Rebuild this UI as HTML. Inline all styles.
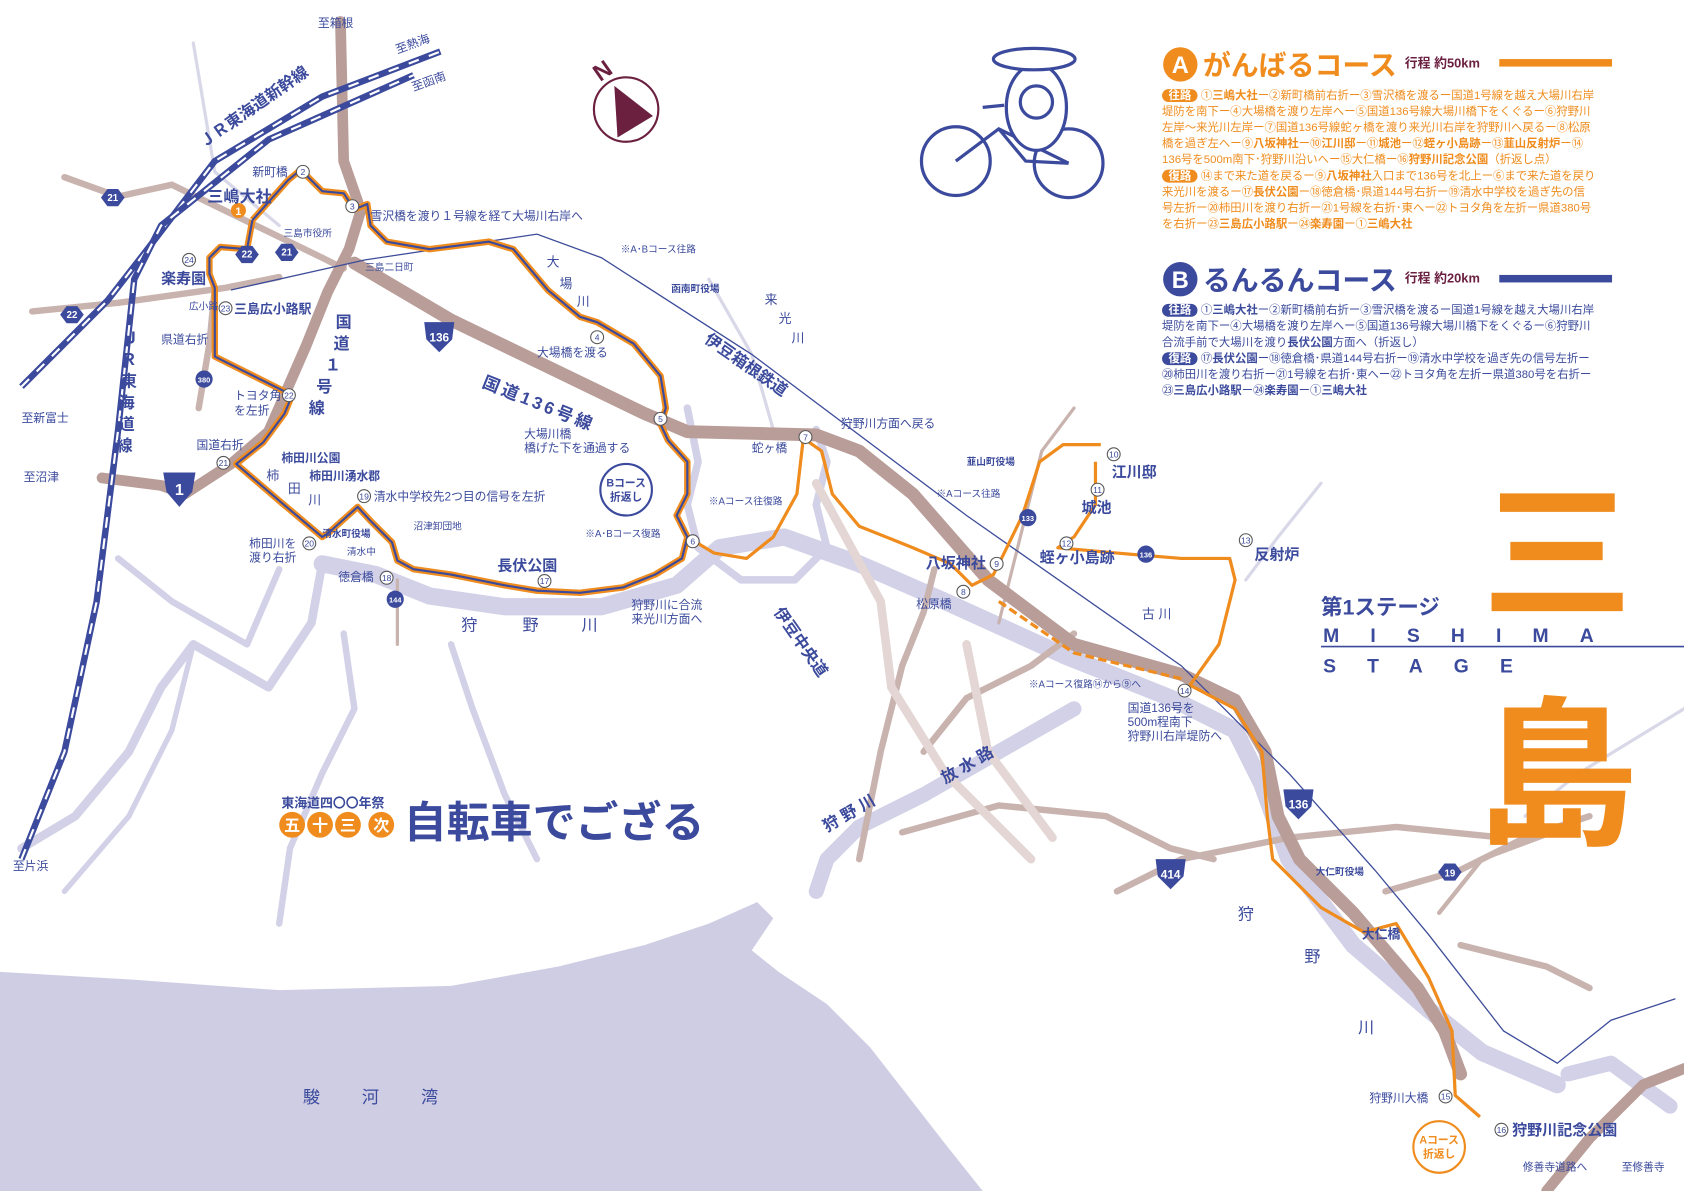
<!DOCTYPE html>
<html><head><meta charset="utf-8">
<style>
html,body{margin:0;padding:0;background:#fff;}
#w{width:1568px;height:1109px;transform:scale(1.07398,1.07394);transform-origin:0 0;position:relative;overflow:hidden;font-family:"Liberation Sans","Noto Sans CJK JP",sans-serif;}
svg{position:absolute;left:0;top:0}
.t{font-family:"Liberation Sans","Noto Sans CJK JP",sans-serif;}
.blk{position:absolute;left:1082px;width:430px;font-size:10.6px;line-height:15px;white-space:nowrap;font-family:"Liberation Sans","Noto Sans CJK JP",sans-serif;}
.blk b{font-weight:bold}
.tag{display:inline-block;color:#fff;border-radius:7px;padding:0 6px;font-weight:bold;line-height:12px;margin-right:3px}
</style></head><body><div id="w">
<svg width="1568" height="1109" viewBox="0 0 1568 1109">
<path d="M0,905 L120,912 L260,922 L420,918 L520,900 L600,880 L660,860 L705,840 L720,855 L700,885 L725,905 L770,935 L810,975 L845,1020 L880,1065 L915,1109 L0,1109 Z" fill="#cfcde3"/>
<g fill="none" stroke="#d2d1e7" stroke-linecap="round" stroke-linejoin="round">
<path d="M1450,1010 L1380,980 L1330,940 L1260,880 L1200,800 L1175,730 L1150,680 L1090,650 L990,610 L880,560 L800,525 L730,500 L670,510 L630,545 L560,565 L470,565 L400,555 L350,535 L300,525" stroke-width="16"/>
<path d="M300,525 L290,580 L250,640 L180,600 L150,640 L120,700 L70,760 L20,790" stroke-width="8"/>
<path d="M260,530 L230,600 L160,560 L110,520" stroke-width="6"/>
<path d="M1000,660 L930,700 L860,740 L800,770 L770,800 L760,830" stroke-width="14"/>
<path d="M640,380 L650,430 L640,470 L650,510 L690,540 L740,540 L770,510 L760,470 L770,430 L760,400" stroke-width="7"/>
<path d="M320,590 L330,660 L300,720 L270,790 L260,860" stroke-width="6"/>
<path d="M420,600 L440,660 L470,740 L500,800" stroke-width="6"/>
<path d="M180,600 L160,680 L120,760 L60,830" stroke-width="5"/>
<path d="M1555,1030 L1500,990 L1460,1000" stroke-width="14"/>
<path d="M1568,660 L1470,720 L1420,760" stroke-width="3" stroke="#d8d8e8"/>
<path d="M180,40 L200,160 L260,210" stroke-width="3" stroke="#d8d8e8"/>
<path d="M660,260 L700,330 L720,400" stroke-width="3" stroke="#d8d8e8"/>
<path d="M1230,450 L1190,500 L1160,540" stroke-width="3" stroke="#d8d8e8"/>
</g>
<g fill="none" stroke="#c9b3af" stroke-linecap="round" stroke-width="6">
<path d="M60,165 L110,183 L160,172 L300,240 L320,250"/>
<path d="M30,290 L110,282 L210,268 L260,258"/>
<path d="M185,380 L195,320 L200,268"/>
<path d="M840,775 L930,750 L1030,760 L1090,790 L1130,800"/>
<path d="M1040,830 L1100,800 L1200,780 L1300,770 L1400,780"/>
<path d="M800,800 L820,700 L840,620 L860,570 L870,530"/>
<path d="M860,700 L900,650 L960,620 L1000,590"/>
<path d="M1290,830 L1360,810 L1420,780 L1480,760"/>
<path d="M1360,880 L1440,900 L1480,920"/>
<path d="M1440,1109 L1480,1060 L1530,1010 L1568,995" stroke-width="10" stroke="#b99d99"/>
<path d="M370,540 L370,600" stroke-width="3"/>
<path d="M930,580 L970,420 L1000,380" stroke-width="3"/>
<path d="M1340,850 L1380,800 L1460,770" stroke-width="4"/>
</g>
<g fill="none" stroke="#e3d6d4" stroke-width="8" stroke-linecap="round">
<path d="M760,450 L820,560 L830,640 L880,720 L960,800"/>
<path d="M900,600 L920,700 L980,780"/>
</g>
<g fill="none" stroke="#b99d99" stroke-linecap="round" stroke-linejoin="round">
<path d="M95,445 L150,452 L172,460 L215,432 L250,402 L285,322 L305,272 L325,232 L336,196 L320,150 L317,20" stroke-width="10"/>
<path d="M330,245 L420,298 L600,385 L640,402 L760,405 L800,420 L850,460 L920,540 L1000,600 L1100,628 L1150,652 L1178,700 L1190,760 L1210,800 L1260,850 L1320,920 L1345,960 L1360,1000" stroke-width="12"/>
</g>
<path d="M215,270 L340,242 L500,218 L560,240 L700,330 L900,480 L1100,620 L1200,720 L1280,810 L1330,870 L1400,960 L1450,990 L1500,950 L1560,930" fill="none" stroke="#3d4c9a" stroke-width="1.2"/>
<g fill="none" stroke-linecap="butt" stroke-linejoin="round">
<path d="M20,360 L100,280 L135,235 L200,150 L300,90 L410,48" stroke="#3b4a9c" stroke-width="6"/>
<path d="M20,360 L100,280 L135,235 L200,150 L300,90 L410,48" stroke="#fff" stroke-width="2" stroke-dasharray="10 10"/>
<path d="M20,800 L60,700 L90,560 L110,400 L125,260 L150,210 L250,130 L385,70" stroke="#3b4a9c" stroke-width="6"/>
<path d="M20,800 L60,700 L90,560 L110,400 L125,260 L150,210 L250,130 L385,70" stroke="#fff" stroke-width="2" stroke-dasharray="10 10"/>
</g>
<g fill="none" stroke="#ef8c1d" stroke-width="3" stroke-linejoin="round">
<path d="M640,500 L665,515 L695,520 L720,500 L742,460 L748,408 L765,420 L775,460 L800,490 L850,510 L885,525 L905,545 L925,535 L935,515 L952,480 L968,430 L990,414 L1025,414 M1020,430 L1020,470 L1000,500 L985,510 L1040,515 L1100,520 L1145,520 L1150,540 L1135,600 L1108,638 L1150,660 L1175,700 L1180,760 L1185,800 L1230,845 L1270,868 L1300,860 L1330,910 L1352,960 L1355,1020 L1378,1040"/>
<path d="M930,560 L1000,608 L1100,632" stroke-dasharray="8 4"/>
</g>
<path d="M235,205 L268,168 L280,158 L300,178 L320,180 L330,195 L342,190 L345,210 L360,225 L400,232 L455,225 L478,232 L510,270 L540,295 L556,300 L590,320 L615,350 L620,380 L615,395 L622,410 L640,430 L640,460 L630,480 L640,500 L635,520 L610,535 L580,547 L540,552 L500,550 L470,545 L420,535 L385,530 L370,522 L365,505 L345,485 L333,472 L305,497 L300,500 L262,468 L220,432 L245,412 L265,385 L272,368 L200,332 L200,268 L195,255 L195,240 L205,230 L230,232 L235,205" fill="none" stroke="#ef8c1d" stroke-width="6" stroke-linejoin="round"/>
<path d="M235,205 L268,168 L280,158 L300,178 L320,180 L330,195 L342,190 L345,210 L360,225 L400,232 L455,225 L478,232 L510,270 L540,295 L556,300 L590,320 L615,350 L620,380 L615,395 L622,410 L640,430 L640,460 L630,480 L640,500 L635,520 L610,535 L580,547 L540,552 L500,550 L470,545 L420,535 L385,530 L370,522 L365,505 L345,485 L333,472 L305,497 L300,500 L262,468 L220,432 L245,412 L265,385 L272,368 L200,332 L200,268 L195,255 L195,240 L205,230 L230,232 L235,205" fill="none" stroke="#3b4a9c" stroke-width="2" stroke-linejoin="round"/>
<g class="t" font-weight="bold" text-anchor="middle" font-size="11">
<path d="M152,440 h30 l-3,18 l-12,14 l-12,-14 z" fill="#3b4a9c"/><text x="167" y="461" fill="#fff" font-size="15">1</text>
<path d="M395,300 h28 l-2,16 l-12,12 l-12,-12 z" fill="#3b4a9c"/><text x="409" y="318" fill="#fff">136</text>
<path d="M1195,735 h28 l-2,16 l-12,12 l-12,-12 z" fill="#3b4a9c"/><text x="1209" y="753" fill="#fff">136</text>
<path d="M1076,800 h28 l-2,16 l-12,12 l-12,-12 z" fill="#3b4a9c"/><text x="1090" y="818" fill="#fff">414</text>
<g fill="#3b4a9c"><polygon points="100,176 110,176 116,184 110,192 100,192 94,184"/><polygon points="262,227 272,227 278,235 272,243 262,243 256,235"/><polygon points="225,229 235,229 241,237 235,245 225,245 219,237"/><polygon points="62,285 72,285 78,293 72,301 62,301 56,293"/><polygon points="1345,804 1355,804 1361,812 1355,820 1345,820 1339,812"/><circle cx="190" cy="353" r="8"/><circle cx="368" cy="558" r="8"/><circle cx="957" cy="482" r="8"/><circle cx="1067" cy="516" r="8"/></g>
<g fill="#fff" font-size="9"><text x="105" y="187">21</text><text x="267" y="238">21</text><text x="230" y="240">22</text><text x="67" y="296">22</text><text x="1350" y="816">19</text><text x="190" y="356" font-size="7">380</text><text x="368" y="561" font-size="7">144</text><text x="957" y="485" font-size="7">133</text><text x="1067" y="519" font-size="7">136</text></g>
</g>
<circle cx="583" cy="102" r="30" fill="#fff" stroke="#6b2040" stroke-width="2"/>
<polygon points="572,80 608,108 575,128" fill="#6b2040"/>
<text x="553" y="72" class="t" font-size="22" font-weight="bold" fill="#6b2040" transform="rotate(-35 563 65)">N</text>
<g fill="none" stroke="#3b4a9c" stroke-width="3">
<circle cx="890" cy="150" r="32"/><circle cx="995" cy="152" r="32"/>
<path d="M890,150 L930,120 L995,152 M930,120 L955,150 L995,152 M915,100 L935,98"/>
<ellipse cx="965" cy="100" rx="28" ry="40" fill="#fff"/>
<ellipse cx="963" cy="55" rx="38" ry="10" fill="#fff"/>
<circle cx="965" cy="95" r="15"/>
</g>
<g fill="#fff" stroke="#555" stroke-width="1" class="t" font-size="8" text-anchor="middle">
<g><circle cx="282" cy="160" r="6"/><circle cx="328" cy="192" r="6"/><circle cx="556" cy="314" r="6"/><circle cx="615" cy="390" r="6"/><circle cx="645" cy="504" r="6"/><circle cx="750" cy="407" r="6"/><circle cx="897" cy="551" r="6"/><circle cx="928" cy="525" r="6"/><circle cx="1037" cy="423" r="6"/><circle cx="1022" cy="456" r="6"/><circle cx="993" cy="506" r="6"/><circle cx="1160" cy="503" r="6"/><circle cx="1103" cy="643" r="6"/><circle cx="1346" cy="1021" r="6"/><circle cx="1398" cy="1052" r="6"/><circle cx="507" cy="541" r="6"/><circle cx="360" cy="538" r="6"/><circle cx="339" cy="462" r="6"/><circle cx="288" cy="506" r="6"/><circle cx="208" cy="431" r="6"/><circle cx="269" cy="368" r="6"/><circle cx="210" cy="287" r="6"/><circle cx="176" cy="242" r="6"/></g>
<g fill="#3b4a9c" stroke="none"><text x="282" y="163">2</text><text x="328" y="195">3</text><text x="556" y="317">4</text><text x="615" y="393">5</text><text x="645" y="507">6</text><text x="750" y="410">7</text><text x="897" y="554">8</text><text x="928" y="528">9</text><text x="1037" y="426">10</text><text x="1022" y="459">11</text><text x="993" y="509">12</text><text x="1160" y="506">13</text><text x="1103" y="646">14</text><text x="1346" y="1024">15</text><text x="1398" y="1055">16</text><text x="507" y="544">17</text><text x="360" y="541">18</text><text x="339" y="465">19</text><text x="288" y="509">20</text><text x="208" y="434">21</text><text x="269" y="371">22</text><text x="210" y="290">23</text><text x="176" y="245">24</text></g>
</g>
<circle cx="222" cy="196" r="7" fill="#ef8c1d"/><text x="222" y="200" text-anchor="middle" fill="#fff" font-size="10" font-weight="bold" class="t">1</text>
<circle cx="583" cy="456" r="24" fill="#fff" stroke="#3b4a9c" stroke-width="2"/>
<text x="583" y="453" text-anchor="middle" class="t" font-size="10" font-weight="bold" fill="#3b4a9c">Bコース</text><text x="583" y="466" text-anchor="middle" class="t" font-size="10" font-weight="bold" fill="#3b4a9c">折返し</text>
<circle cx="1340" cy="1068" r="24" fill="#fff" stroke="#ef8c1d" stroke-width="2"/>
<text x="1340" y="1065" text-anchor="middle" class="t" font-size="10" font-weight="bold" fill="#ef8c1d">Aコース</text><text x="1340" y="1078" text-anchor="middle" class="t" font-size="10" font-weight="bold" fill="#ef8c1d">折返し</text>
<g class="t" fill="#3b4a9c" font-size="11">
<text x="296" y="25">至箱根</text><text x="370" y="50" transform="rotate(-20 370 50)">至熱海</text><text x="385" y="85" transform="rotate(-20 385 85)">至函南</text>
<text x="20" y="393">至新富士</text><text x="22" y="448">至沼津</text><text x="12" y="810">至片浜</text>
<text x="235" y="164">新町橋</text><text x="345" y="205">雪沢橋を渡り１号線を経て大場川右岸へ</text>
<text x="264" y="220" font-size="9">三島市役所</text><text x="150" y="320">県道右折</text><text x="218" y="372">トヨタ角</text><text x="218" y="386">を左折</text>
<text x="183" y="418">国道右折</text><text x="232" y="510">柿田川を</text><text x="232" y="523">渡り右折</text><text x="315" y="541">徳倉橋</text><text x="348" y="466">清水中学校先2つ目の信号を左折</text>
<text x="500" y="332">大場橋を渡る</text><text x="488" y="408">大場川橋</text><text x="488" y="421">橋げた下を通過する</text>
<text x="783" y="398">狩野川方面へ戻る</text><text x="700" y="421">蛇ヶ橋</text><text x="588" y="567">狩野川に合流</text><text x="588" y="580">来光川方面へ</text>
<text x="853" y="566">松原橋</text><text x="1050" y="663">国道136号を</text><text x="1050" y="676">500m程南下</text><text x="1050" y="689">狩野川右岸堤防へ</text>
<text x="1275" y="1026">狩野川大橋</text><text x="1418" y="1090" font-size="10">修善寺道路へ</text><text x="1510" y="1090" font-size="10">至修善寺</text>
<text x="578" y="235" font-size="9">※A･Bコース往路</text><text x="545" y="500" font-size="9">※A･Bコース復路</text><text x="660" y="470" font-size="9">※Aコース往復路</text><text x="872" y="463" font-size="9">※Aコース往路</text><text x="958" y="640" font-size="9">※Aコース復路⑭から⑨へ</text>
<text x="625" y="272" font-size="9" font-weight="bold">函南町役場</text><text x="900" y="433" font-size="9" font-weight="bold">韮山町役場</text><text x="1225" y="815" font-size="9" font-weight="bold">大仁町役場</text>
<text x="340" y="252" font-size="9">三島二日町</text><text x="176" y="288" font-size="9">広小路</text><text x="385" y="493" font-size="9">沼津卸団地</text><text x="323" y="517" font-size="9">清水中</text>
</g>
<g class="t" fill="#3b4a9c" font-weight="bold">
<text x="193" y="188" font-size="15">三嶋大社</text><text x="150" y="264" font-size="14">楽寿園</text><text x="218" y="292" font-size="12">三島広小路駅</text>
<text x="262" y="430" font-size="11">柿田川公園</text><text x="288" y="447" font-size="11">柿田川湧水郡</text><text x="300" y="500" font-size="9">清水町役場</text>
<text x="463" y="531" font-size="14">長伏公園</text><text x="862" y="529" font-size="14">八坂神社</text><text x="1035" y="444" font-size="14">江川邸</text><text x="1007" y="477" font-size="14">城池</text><text x="968" y="524" font-size="14">蛭ヶ小島跡</text><text x="1168" y="521" font-size="14">反射炉</text>
<text x="1408" y="1057" font-size="14">狩野川記念公園</text><text x="1268" y="874" font-size="12">大仁橋</text>
<text x="448" y="360" font-size="16" transform="rotate(22 448 360)" letter-spacing="3">国道136号線</text>
<text x="190" y="138" font-size="15" transform="rotate(-35 190 138)">ＪＲ東海道新幹線</text>
<text x="655" y="318" font-size="15" transform="rotate(35 655 318)">伊豆箱根鉄道</text>
<text x="720" y="570" font-size="15" transform="rotate(55 720 570)">伊豆中央道</text>
<text x="880" y="730" font-size="15" transform="rotate(-30 880 730)">放 水 路</text>
<text x="770" y="775" font-size="15" transform="rotate(-30 770 775)">狩 野 川</text>
</g>
<g class="t" fill="#3b4a9c" font-size="15" text-anchor="middle">
<text x="320" y="305" font-weight="bold">国</text><text x="318" y="325" font-weight="bold">道</text><text x="310" y="345" font-weight="bold">１</text><text x="302" y="365" font-weight="bold">号</text><text x="295" y="385" font-weight="bold">線</text>
<text x="122" y="320" font-weight="bold">Ｊ</text><text x="120" y="340" font-weight="bold">Ｒ</text><text x="120" y="360" font-weight="bold">東</text><text x="118" y="380" font-weight="bold">海</text><text x="118" y="400" font-weight="bold">道</text><text x="116" y="420" font-weight="bold">線</text>
<text x="437" y="587">狩</text><text x="494" y="587">野</text><text x="549" y="587">川</text>
<text x="1160" y="856">狩</text><text x="1222" y="896">野</text><text x="1272" y="962">川</text>
<text x="1077" y="576" font-size="12">古 川</text>
<text x="515" y="248" font-size="12">大</text><text x="527" y="268" font-size="12">場</text><text x="543" y="285" font-size="12">川</text>
<text x="718" y="283" font-size="12">来</text><text x="731" y="301" font-size="12">光</text><text x="743" y="319" font-size="12">川</text>
<text x="254" y="447" font-size="12">柿</text><text x="274" y="459" font-size="12">田</text><text x="293" y="470" font-size="12">川</text>
<text x="290" y="1027" font-size="16">駿</text><text x="345" y="1027" font-size="16">河</text><text x="400" y="1027" font-size="16">湾</text>
</g>
<text x="262" y="752" class="t" font-size="12" font-weight="bold" fill="#3b4a9c">東海道四〇〇年祭</text>
<g class="t" font-size="15" font-weight="bold" fill="#fff" text-anchor="middle">
<circle cx="272" cy="768" r="12" fill="#ef8c1d"/><circle cx="298" cy="768" r="12" fill="#ef8c1d"/><circle cx="324" cy="768" r="12" fill="#ef8c1d"/><circle cx="355" cy="768" r="12" fill="#ef8c1d"/>
<text x="272" y="774">五</text><text x="298" y="774">十</text><text x="324" y="774">三</text><text x="355" y="774">次</text>
</g>
<text x="376" y="780" class="t" font-size="40" font-weight="bold" fill="#3b4a9c">自転車でござる</text>
<text x="1380" y="565" class="t" font-size="140" font-weight="bold" fill="#ef8c1d">三</text>
<text x="1375" y="775" class="t" font-size="150" font-weight="bold" fill="#ef8c1d">島</text>
<text x="1230" y="572" class="t" font-size="20" font-weight="bold" fill="#3b4a9c">第1ステージ</text>
<text x="1232" y="598" class="t" font-size="18" font-weight="bold" fill="#3b4a9c" letter-spacing="29">MISHIMA</text>
<line x1="1230" y1="602" x2="1568" y2="602" stroke="#3b4a9c" stroke-width="1.5"/>
<text x="1232" y="626" class="t" font-size="18" font-weight="bold" fill="#3b4a9c" letter-spacing="29">STAGE</text>
<circle cx="1099" cy="60" r="16" fill="#ef8c1d"/><text x="1099" y="68" text-anchor="middle" class="t" font-size="22" font-weight="bold" fill="#fff">A</text>
<text x="1120" y="70" class="t" font-size="26" font-weight="bold" fill="#ef8c1d">がんばるコース</text>
<text x="1308" y="63" class="t" font-size="12" font-weight="bold" fill="#6b2040">行程 約50km</text>
<rect x="1396" y="55" width="105" height="7" fill="#ef8c1d"/>
<circle cx="1099" cy="260" r="16" fill="#3b4a9c"/><text x="1099" y="268" text-anchor="middle" class="t" font-size="22" font-weight="bold" fill="#fff">B</text>
<text x="1120" y="270" class="t" font-size="26" font-weight="bold" fill="#3b4a9c">るんるんコース</text>
<text x="1308" y="263" class="t" font-size="12" font-weight="bold" fill="#6b2040">行程 約20km</text>
<rect x="1396" y="256" width="105" height="7" fill="#3b4a9c"/>
</svg>
<div class="blk" style="top:82px;color:#ef8c1d">
<div><span class="tag" style="background:#ef8c1d">往路</span>①<b>三嶋大社</b>ー②新町橋前右折ー③雪沢橋を渡るー国道1号線を越え大場川右岸</div>
<div>堤防を南下ー④大場橋を渡り左岸へー⑤国道136号線大場川橋下をくぐるー⑥狩野川</div>
<div>左岸〜来光川左岸ー⑦国道136号線蛇ヶ橋を渡り来光川右岸を狩野川へ戻るー⑧松原</div>
<div>橋を過ぎ左へー⑨<b>八坂神社</b>ー⑩<b>江川邸</b>ー⑪<b>城池</b>ー⑫<b>蛭ヶ小島跡</b>ー⑬<b>韮山反射炉</b>ー⑭</div>
<div>136号を500m南下･狩野川沿いへー⑮大仁橋ー⑯<b>狩野川記念公園</b>（折返し点）</div>
<div><span class="tag" style="background:#ef8c1d">復路</span>⑭まで来た道を戻るー⑨<b>八坂神社</b>入口まで136号を北上ー⑥まで来た道を戻り</div>
<div>来光川を渡るー⑰<b>長伏公園</b>ー⑱徳倉橋･県道144号右折ー⑲清水中学校を過ぎ先の信</div>
<div>号左折ー⑳柿田川を渡り右折ー㉑1号線を右折･東へー㉒トヨタ角を左折ー県道380号</div>
<div>を右折ー㉓<b>三島広小路駅</b>ー㉔<b>楽寿園</b>ー①<b>三嶋大社</b></div>
</div>
<div class="blk" style="top:282px;color:#3b4a9c">
<div><span class="tag" style="background:#3b4a9c">往路</span>①<b>三嶋大社</b>ー②新町橋前右折ー③雪沢橋を渡るー国道1号線を越え大場川右岸</div>
<div>堤防を南下ー④大場橋を渡り左岸へー⑤国道136号線大場川橋下をくぐるー⑥狩野川</div>
<div>合流手前で大場川を渡り<b>長伏公園</b>方面へ（折返し）</div>
<div><span class="tag" style="background:#3b4a9c">復路</span>⑰<b>長伏公園</b>ー⑱徳倉橋･県道144号右折ー⑲清水中学校を過ぎ先の信号左折ー</div>
<div>⑳柿田川を渡り右折ー㉑1号線を右折･東へー㉒トヨタ角を左折ー県道380号を右折ー</div>
<div>㉓<b>三島広小路駅</b>ー㉔<b>楽寿園</b>ー①<b>三嶋大社</b></div>
</div>
</div></body></html>
